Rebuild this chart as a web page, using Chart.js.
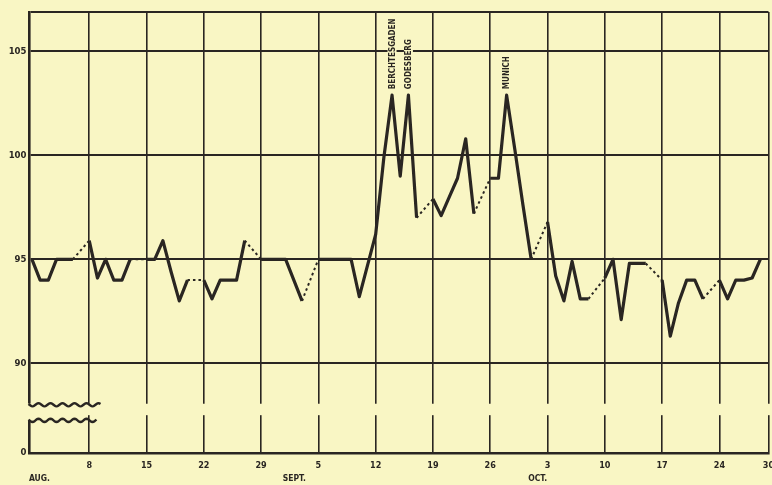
<!DOCTYPE html>
<html>
<head>
<meta charset="utf-8">
<script src="https://cdn.jsdelivr.net/npm/chart.js@4/dist/chart.umd.min.js"></script>
<style>
  html, body { margin: 0; background: #f9f6c4; }
</style>
</head>
<body>
<canvas id="chart" width="772" height="485"></canvas>
<script>
// trading days counted from Aug 1 (day 0), Sundays left out
const days = [0, 1, 2, 3, 4, 5, 7, 8, 9, 10, 11, 12, 14, 15, 16, 17, 18, 19, 21, 22, 23, 24, 25, 26,
              28, 29, 30, 31, 32, 33, 35, 36, 37, 38, 39, 40, 42, 43, 44, 45, 46, 47, 49, 50, 51, 52, 53, 54,
              56, 57, 58, 59, 60, 61, 63, 64, 65, 66, 67, 68, 70, 71, 72, 73, 74, 75, 77, 78, 79, 80, 81, 82,
              84, 85, 86, 87, 88, 89];
const values = [95, 94, 94, 95, 95, 95, 95.9, 94.1, 95, 94, 94, 95, 95, 95, 95.9, 94.4, 93, 94, 94, 93.1, 94, 94, 94, 95.9,
                95, 95, 95, 95, 94, 93, 95, 95, 95, 95, 95, 93.2, 96.2, 99.9, 102.9, 99, 102.9, 97, 97.9, 97.1, 98, 98.9, 100.8, 97.2,
                98.9, 98.9, 102.9, 100.3, 97.6, 95, 96.8, 94.2, 93, 94.9, 93.1, 93.1, 94.1, 95, 92.1, 94.8, 94.8, 94.8, 94, 91.3, 92.9, 94, 94, 93.1,
                94, 93.1, 94, 94, 94.1, 95];
const solidJoins = [40];   // Sat Sept 10 -> Mon Sept 12 drawn full

const tickDays = [7, 14, 21, 28, 35, 42, 49, 56, 63, 70, 77, 84, 90];
const tickLabels = ['8', '15', '22', '29', '5', '12', '19', '26', '3', '10', '17', '24', '30'];
const months = ['AUG.', 'SEPT.', 'OCT.'];
const monthStartDays = [0, 31, 61];

const yTicks = [85.68, 90, 95, 100, 105];
const yTickLabels = ['0', '90', '95', '100', '105'];

const events = ['BERCHTESGADEN', 'GODESBERG', 'MUNICH'];
const eventDays = [44, 46, 58];

const paper = '#f9f6c4';
const ink = '#2a2622';
const font = "'DejaVu Sans Condensed', 'DejaVu Sans', sans-serif";

const points = days.map((d, i) => ({ x: d, y: values[i] }));

const isDotted = ctx => {
    const a = ctx.p0.parsed.x, b = ctx.p1.parsed.x;
    return b - a > 1 && !solidJoins.includes(a);
};

const paperPlugin = {
    id: 'paper',
    beforeDraw(chart) {
        const c = chart.ctx;
        c.save();
        c.fillStyle = paper;
        c.fillRect(0, 0, chart.width, chart.height);
        c.restore();
    }
};

// axis break between 0 and 90
const breakPlugin = {
    id: 'axisBreak',
    beforeDatasetsDraw(chart) {
        const c = chart.ctx;
        const y = chart.scales.y;
        const { left, right } = chart.chartArea;
        const top = y.getPixelForValue(88.05);
        const bot = y.getPixelForValue(87.5);
        const low = y.getPixelForValue(87.25);
        c.save();
        c.fillStyle = paper;
        c.fillRect(left - 4, top, right - left + 8, bot - top);
        c.fillRect(left - 4, top, 7, low - top);

        const wave = (y0, x1) => {
            c.beginPath();
            for (let x = left - 1; x <= x1; x += 1) {
                const yy = y0 + 1.6 * Math.sin((x - left) * Math.PI / 6);
                if (x === left - 1) c.moveTo(x, yy); else c.lineTo(x, yy);
            }
            c.stroke();
        };
        c.strokeStyle = ink;
        c.lineWidth = 2.4;
        wave(top + 1, left + 71);
        wave(low, left + 67);
        c.restore();
    }
};

const labelPlugin = {
    id: 'labels',
    afterDatasetsDraw(chart) {
        const c = chart.ctx;
        const xS = chart.scales.x, yS = chart.scales.y;
        c.save();
        c.font = 'bold 8px ' + font;
        c.textBaseline = 'middle';
        events.forEach((label, i) => {
            const d = eventDays[i];
            const v = values[days.indexOf(d)];
            const x = xS.getPixelForValue(d);
            const y = yS.getPixelForValue(v) - 6;
            const w = c.measureText(label).width;
            c.save();
            c.translate(x, y);
            c.rotate(-Math.PI / 2);
            c.fillStyle = paper;
            c.fillRect(-1, -4.5, w + 3, 9);
            c.fillStyle = ink;
            c.fillText(label, 0, 0.5);
            c.restore();
        });

        // month names under the day numbers
        c.font = 'bold 8.5px ' + font;
        c.textBaseline = 'middle';
        c.textAlign = 'left';
        c.fillStyle = ink;
        months.forEach((m, i) => {
            c.fillText(m, xS.getPixelForValue(monthStartDays[i]) - 3, 479);
        });
        c.restore();
    }
};

new Chart(document.getElementById('chart'), {
    type: 'line',
    data: {
        datasets: [{
            data: points,
            borderColor: ink,
            borderWidth: 3.2,
            pointRadius: 0,
            tension: 0,
            borderJoinStyle: 'round',
            segment: {
                borderDash: ctx => isDotted(ctx) ? [2.5, 3] : undefined,
                borderWidth: ctx => isDotted(ctx) ? 2 : undefined
            }
        }]
    },
    options: {
        responsive: false,
        animation: false,
        layout: { padding: { top: 12, right: 3.5, left: 0, bottom: 0 } },
        plugins: {
            legend: { display: false },
            tooltip: { enabled: false }
        },
        scales: {
            x: {
                type: 'linear',
                min: -0.3,
                max: 90,
                afterBuildTicks: s => { s.ticks = tickDays.map(v => ({ value: v })); },
                afterFit: s => { s.height = 32; s.paddingLeft = 0; s.paddingRight = 0; },
                ticks: {
                    callback: (v, i) => tickLabels[i],
                    color: ink,
                    font: { family: font, size: 9, weight: 'bold' },
                    padding: 7,
                    maxRotation: 0,
                    autoSkip: false
                },
                grid: { color: ink, lineWidth: 1.6, drawTicks: false },
                border: { color: ink, width: 2.6 }
            },
            y: {
                min: 85.68,
                max: 106.9,
                afterBuildTicks: s => { s.ticks = yTicks.concat([106.9]).map(v => ({ value: v })); },
                afterFit: s => { s.width = 29.5; s.paddingTop = 0; s.paddingBottom = 0; },
                ticks: {
                    callback: (v, i) => yTickLabels[i] ?? '',
                    color: ink,
                    font: { family: font, size: 9.5, weight: 'bold' },
                    padding: 3
                },
                grid: { color: ink, lineWidth: 2, drawTicks: false },
                border: { color: ink, width: 2.6 }
            }
        }
    },
    plugins: [paperPlugin, breakPlugin, labelPlugin]
});
</script>
</body>
</html>
